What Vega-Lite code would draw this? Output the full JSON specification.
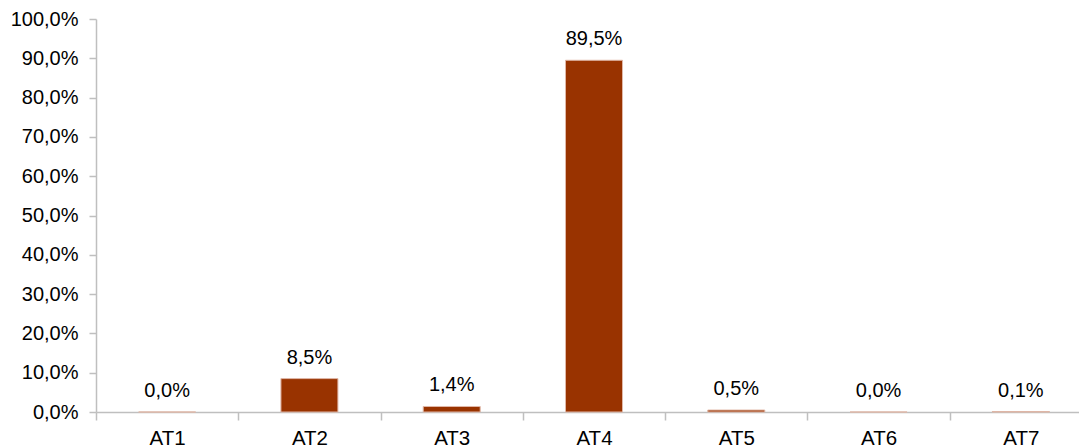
{
  "$schema": "https://vega.github.io/schema/vega-lite/v6.json",
  "autosize": {"type": "none"},
  "padding": {"left": 96, "top": 19, "right": 0, "bottom": 36},
  "width": 996,
  "height": 393,
  "background": "white",
  "config": {
    "view": {"stroke": null},
    "locale": {"number": {"decimal": ",", "thousands": ".", "grouping": [3], "currency": ["€", ""]}},
    "font": "Liberation Sans"
  },
  "data": {"values": [
    {"cat": "AT1", "v": 0.0},
    {"cat": "AT2", "v": 0.085},
    {"cat": "AT3", "v": 0.014},
    {"cat": "AT4", "v": 0.895},
    {"cat": "AT5", "v": 0.005},
    {"cat": "AT6", "v": 0.0},
    {"cat": "AT7", "v": 0.001}
  ]},
  "encoding": {
    "x": {"field": "cat", "type": "nominal", "sort": null,
      "scale": {"paddingInner": 0, "paddingOuter": 0},
      "axis": {"title": null, "labelAngle": 0, "labelFontSize": 20.5, "labelColor": "#000000",
        "domainColor": "#bfbfbf", "domainWidth": 1.5, "tickColor": "#bfbfbf", "tickWidth": 1.5, "tickSize": 8,
        "tickBand": "extent", "labelBaseline": "alphabetic", "labelPadding": 24, "grid": false}},
    "y": {"field": "v", "type": "quantitative",
      "scale": {"domain": [0, 1], "nice": false},
      "axis": {"title": null, "format": ".1%", "values": [0,0.1,0.2,0.3,0.4,0.5,0.6,0.7,0.8,0.9,1.0],
        "labelFontSize": 20, "labelColor": "#000000", "grid": false,
        "domainColor": "#bfbfbf", "domainWidth": 1.5, "tickColor": "#bfbfbf", "tickWidth": 1.5, "tickSize": 7, "labelPadding": 11}}
  },
  "layer": [
    {"mark": {"type": "bar", "size": 57, "color": "#993300", "stroke": "#e0b8a8", "strokeWidth": 1}},
    {"mark": {"type": "text", "dy": -15, "baseline": "alphabetic", "fontSize": 20, "color": "#000000"},
     "encoding": {"text": {"field": "v", "type": "quantitative", "format": ".1%"}}}
  ]
}
